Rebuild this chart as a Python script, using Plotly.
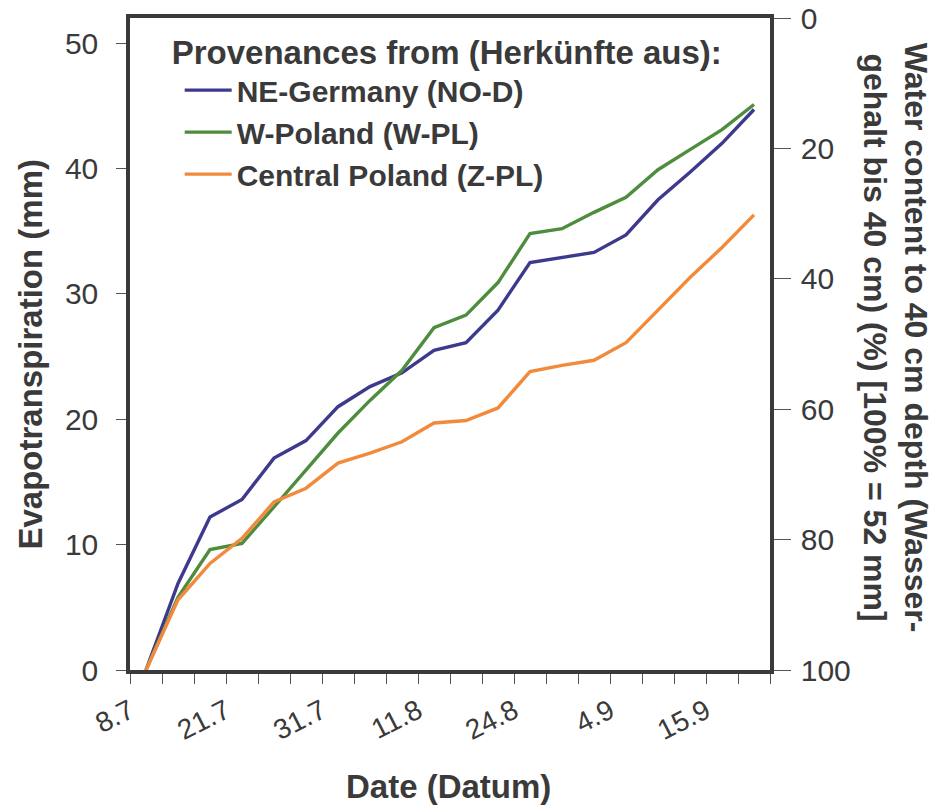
import plotly.graph_objects as go

# observation index (categories between x-axis ticks)
obs_index = list(range(20))
tick_labels = {0: "8.7", 3: "21.7", 6: "31.7", 9: "11.8", 12: "24.8", 15: "4.9", 18: "15.9"}

ne_germany = [0, 6.9, 12.2, 13.6, 16.9, 18.3, 21.0, 22.6, 23.7, 25.5,
              26.1, 28.7, 32.5, 32.9, 33.3, 34.7, 37.5, 39.7, 42.0, 44.7]
w_poland = [0, 5.8, 9.6, 10.1, 13.0, 15.9, 18.9, 21.5, 23.9, 27.3,
            28.3, 30.9, 34.8, 35.2, 36.5, 37.7, 39.9, 41.5, 43.1, 45.1]
central_poland = [0, 5.6, 8.5, 10.5, 13.4, 14.5, 16.5, 17.3, 18.2, 19.7,
                  19.9, 20.9, 23.8, 24.3, 24.7, 26.1, 28.7, 31.3, 33.7, 36.3]

series = [
    ("NE-Germany (NO-D)", ne_germany, "#3d3a8e"),
    ("W-Poland (W-PL)", w_poland, "#4e8c3e"),
    ("Central Poland (Z-PL)", central_poland, "#f28a3c"),
]

FONT = "Liberation Sans, Arial, sans-serif"
TXT = "#3a3a3a"

x_pos = [i + 0.5 for i in obs_index]

fig = go.Figure()
for name, vals, col in series:
    fig.add_trace(go.Scatter(x=x_pos, y=vals, mode="lines", name=name,
                             line=dict(color=col, width=3.4)))
# anchor trace for right axis
fig.add_trace(go.Scatter(x=[None], y=[None], yaxis="y2", showlegend=False, hoverinfo="skip"))

tickvals = list(range(21))
ticktext = [tick_labels.get(v, "") for v in tickvals]

fig.update_layout(
    width=943, height=805,
    margin=dict(l=130, r=173, t=18, b=135, autoexpand=False),
    paper_bgcolor="white", plot_bgcolor="white",
    font=dict(family=FONT, color=TXT),
    showlegend=True,
    legend=dict(
        x=0.062, y=0.995, xanchor="left", yanchor="top",
        bgcolor="rgba(0,0,0,0)",
        font=dict(size=30, family=FONT, color=TXT, weight="bold"),
        title=dict(text="<b>Provenances from (Herkünfte aus):</b>",
                   font=dict(size=33, color=TXT)),
        itemwidth=47, tracegroupgap=0,
        indentation=10,
    ),
    xaxis=dict(
        range=[0, 20], tickmode="array", tickvals=tickvals, ticktext=ticktext,
        tickangle=-27, tickfont=dict(size=28, color=TXT),
        ticks="outside", ticklen=10, tickwidth=1, tickcolor="#555",
        showline=True, linewidth=3.5, linecolor="#3a3a3a", mirror=True,
        showgrid=False, zeroline=False, automargin=False,
    ),
    yaxis=dict(
        range=[0, 52], tickvals=[0, 10, 20, 30, 40, 50],
        tickfont=dict(size=30, color=TXT),
        ticks="outside", ticklen=10, tickwidth=1, tickcolor="#555",
        showline=True, linewidth=3.5, linecolor="#3a3a3a", mirror=True,
        showgrid=False, zeroline=False, ticklabelstandoff=12, automargin=False,
    ),
    yaxis2=dict(
        range=[100, 0], tickvals=[0, 20, 40, 60, 80, 100], overlaying="y", side="right",
        anchor="x",
        tickfont=dict(size=30, color=TXT),
        ticks="outside", ticklen=17, tickwidth=1, tickcolor="#555",
        showline=True, linewidth=3.5, linecolor="#3a3a3a",
        showgrid=False, zeroline=False, ticklabelstandoff=4, automargin=False,
    ),
    annotations=[
        dict(text="<b>Evapotranspiration (mm)</b>", xref="paper", yref="paper",
             x=-0.155, y=0.485, xanchor="center", yanchor="middle", textangle=-90,
             showarrow=False, font=dict(size=33, color=TXT)),
        dict(text="<b>Date (Datum)</b>", xref="paper", yref="paper",
             x=0.498, y=-0.178, xanchor="center", yanchor="middle",
             showarrow=False, font=dict(size=33, color=TXT)),
        dict(text="<b>Water content to 40 cm depth (Wasser-<br>gehalt bis 40 cm) (%) [100% = 52 mm]</b>",
             xref="paper", yref="paper", x=1.195, y=0.51, xanchor="center", yanchor="middle",
             textangle=90, showarrow=False, font=dict(size=32, color=TXT)),
    ],
)

fig.write_html("out.html", config={"displayModeBar": False},
               post_script="document.body.style.margin='0px';")
